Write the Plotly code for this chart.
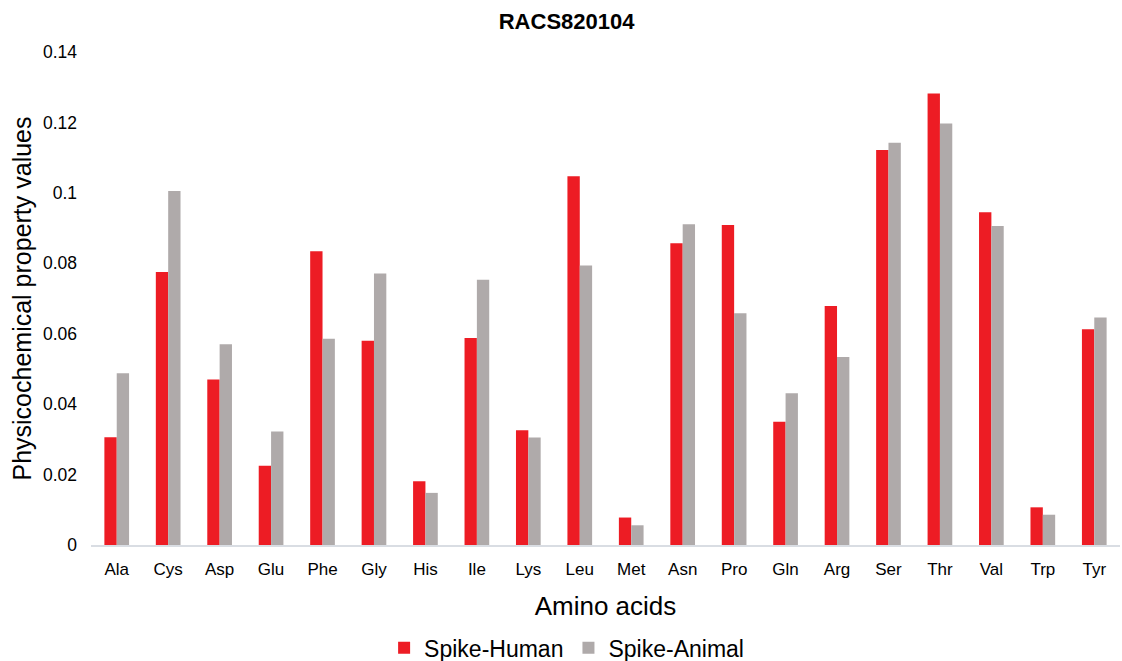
import plotly.graph_objects as go

categories = ["Ala", "Cys", "Asp", "Glu", "Phe", "Gly", "His", "Ile", "Lys", "Leu",
              "Met", "Asn", "Pro", "Gln", "Arg", "Ser", "Thr", "Val", "Trp", "Tyr"]
spike_human = [0.0306, 0.0775, 0.0470, 0.0225, 0.0834, 0.0580, 0.0181, 0.0588, 0.0326, 0.1047,
               0.0078, 0.0857, 0.0909, 0.0350, 0.0679, 0.1122, 0.1282, 0.0945, 0.0107, 0.0613]
spike_animal = [0.0488, 0.1005, 0.0570, 0.0322, 0.0586, 0.0771, 0.0148, 0.0753, 0.0305, 0.0794,
                0.0056, 0.0911, 0.0658, 0.0431, 0.0534, 0.1142, 0.1197, 0.0906, 0.0086, 0.0646]
y_tickvals = [0, 0.02, 0.04, 0.06, 0.08, 0.1, 0.12, 0.14]
y_ticktext = ["0", "0.02", "0.04", "0.06", "0.08", "0.1", "0.12", "0.14"]

font_family = "Arial, Liberation Sans, sans-serif"

fig = go.Figure()
fig.add_trace(go.Bar(x=categories, y=spike_human, name="Spike-Human",
                     marker=dict(color="#ED1C24", line=dict(width=0))))
fig.add_trace(go.Bar(x=categories, y=spike_animal, name="Spike-Animal",
                     marker=dict(color="#AFAAAA", line=dict(width=0))))

fig.update_layout(
    width=1122, height=661,
    barmode="group", bargap=0.52, bargroupgap=0,
    plot_bgcolor="white", paper_bgcolor="white",
    font=dict(family=font_family, color="#000000"),
    margin=dict(l=91, r=2, t=52, b=116, autoexpand=False),
    title=dict(text="<b>RACS820104</b>", x=0.505, xanchor="center", y=0.968, yanchor="middle",
               font=dict(size=22, color="#000000", family=font_family)),
    xaxis=dict(
        title=dict(text="Amino acids", font=dict(size=26), standoff=19),
        tickfont=dict(size=17), showgrid=False, showline=True,
        linecolor="#D9DDE3", linewidth=1.5, ticks="", ticklen=0, zeroline=False,
        ticklabelstandoff=8, automargin=False,
    ),
    yaxis=dict(
        title=dict(text="Physicochemical property values", font=dict(size=25), standoff=4),
        range=[0, 0.14], tickvals=y_tickvals, ticktext=y_ticktext,
        tickfont=dict(size=17.5), showgrid=False, showline=False, zeroline=False,
        ticks="", ticklen=0, ticklabelstandoff=13, automargin=False,
    ),
    legend=dict(orientation="h", x=0.505, xanchor="center", xref="container",
                y=0.02, yanchor="middle", yref="container",
                font=dict(size=23), itemwidth=30, traceorder="normal"),
    showlegend=True,
)

fig.write_html("out.html", config={"displayModeBar": False},
               post_script="document.body.style.margin='0';")
